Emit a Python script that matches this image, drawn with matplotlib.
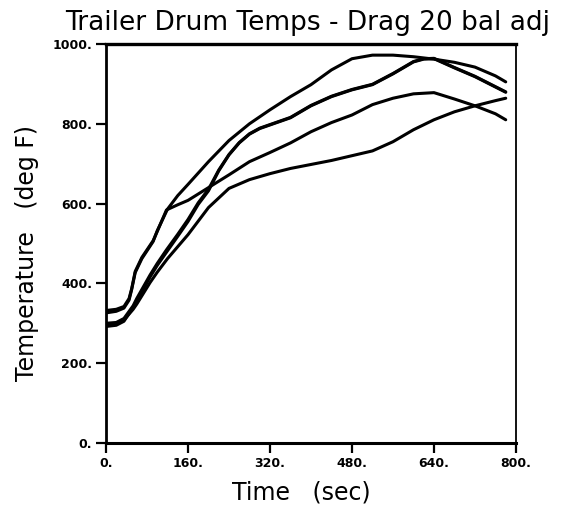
import numpy as np
import matplotlib.pyplot as plt

# drum temperature traces (deg F) vs time (sec)
t_a = [0, 20, 35, 45, 50, 57, 70, 92, 100, 120, 140, 160, 200, 240, 280, 320, 360,
       400, 440, 480, 520, 560, 600, 640, 680, 720, 760, 780]
temp_a = [326, 330, 338, 358, 384, 427, 462, 505, 532, 586, 620, 648, 705, 758, 800,
          835, 868, 898, 935, 963, 972, 972, 968, 962, 954, 942, 920, 905]

t_b = [0, 20, 35, 53, 60, 86, 100, 118, 140, 160, 180, 200, 220, 240, 260, 280, 300,
       320, 360, 400, 440, 480, 520, 560, 600, 620, 640, 680, 720, 760, 780]
temp_b = [292, 295, 305, 340, 356, 416, 445, 478, 518, 555, 598, 632, 682, 722, 752,
          774, 788, 797, 815, 845, 868, 885, 898, 925, 955, 962, 963, 940, 918, 892, 879]

t_c = [0, 20, 35, 45, 50, 57, 70, 92, 100, 118, 140, 160, 200, 240, 280, 320, 360,
       400, 440, 480, 520, 560, 600, 640, 680, 720, 760, 780]
temp_c = [332, 335, 342, 362, 386, 430, 465, 507, 530, 584, 597, 608, 640, 672, 705,
          728, 752, 780, 803, 822, 848, 864, 875, 878, 862, 845, 825, 810]

t_d = [0, 20, 35, 53, 60, 86, 100, 120, 140, 160, 200, 240, 280, 320, 360, 400, 440,
       480, 520, 560, 600, 640, 680, 720, 760, 780]
temp_d = [295, 298, 308, 335, 348, 402, 428, 462, 492, 522, 590, 638, 660, 675, 688,
          698, 708, 720, 732, 755, 785, 810, 830, 845, 858, 864]

t_e = [0, 20, 35, 53, 60, 86, 100, 118, 140, 160, 180, 200, 220, 240, 260, 280, 300,
       320, 360, 400, 440, 480, 520, 560, 600, 620, 640, 680, 720, 760, 780]
temp_e = [300, 302, 312, 344, 362, 421, 450, 484, 523, 560, 602, 636, 684, 723, 753,
          775, 789, 798, 816, 846, 869, 886, 899, 926, 956, 963, 964, 941, 919, 893, 880]

xticks = [0, 160, 320, 480, 640, 800]
yticks = [0, 200, 400, 600, 800, 1000]

fig = plt.figure(figsize=(5.62, 5.13), dpi=100)
ax = fig.add_axes([0.1886, 0.1365, 0.7295, 0.7778])

for t, y in [(t_a, temp_a), (t_b, temp_b), (t_c, temp_c), (t_d, temp_d), (t_e, temp_e)]:
    ax.plot(t, y, color='black', lw=2.2, solid_capstyle='round', solid_joinstyle='round')

ax.set_xlim(0, 800)
ax.set_ylim(0, 1000)
ax.set_xticks(xticks)
ax.set_yticks(yticks)
ax.set_xticklabels([f'{v}.' for v in xticks], fontsize=9, fontweight='bold')
ax.set_yticklabels([f'{v}.' for v in yticks], fontsize=9, fontweight='bold')
ax.tick_params(direction='out', length=7, width=1.6, pad=3)

for side, w in [('left', 2.0), ('bottom', 2.2), ('top', 2.4), ('right', 1.3)]:
    ax.spines[side].set_linewidth(w)

fig.text(0.548, 0.956, 'Trailer Drum Temps - Drag 20 bal adj', fontsize=19,
         ha='center', va='center')
fig.text(0.537, 0.040, 'Time   (sec)', fontsize=17, ha='center', va='center')
fig.text(0.048, 0.507, 'Temperature   (deg F)', fontsize=17, ha='center',
         va='center', rotation=90)

fig.savefig('out.png', dpi=100)
